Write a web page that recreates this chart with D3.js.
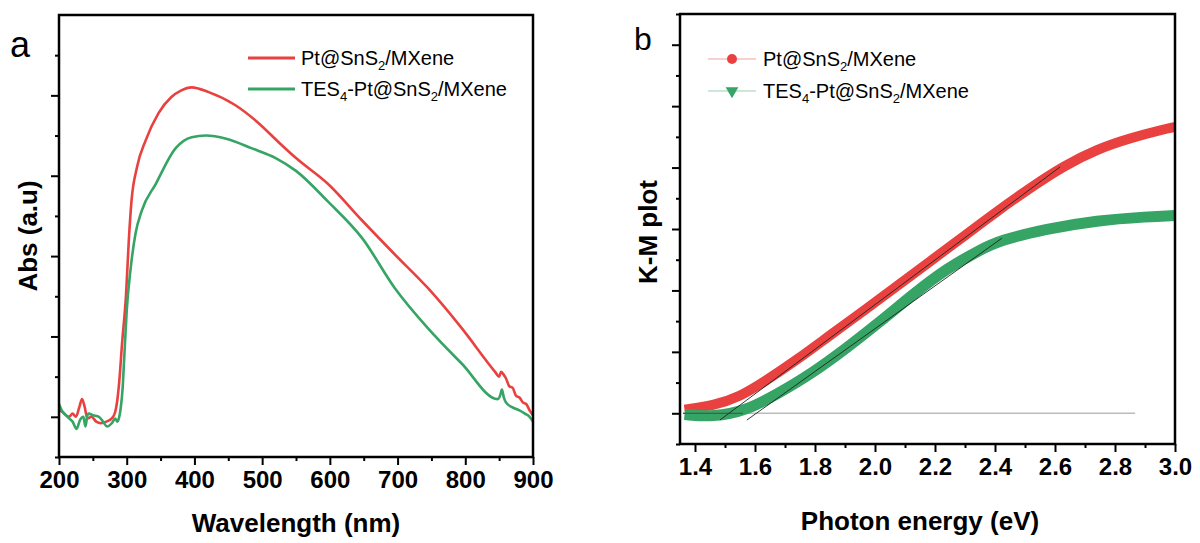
<!DOCTYPE html>
<html>
<head>
<meta charset="utf-8">
<script src="https://cdn.jsdelivr.net/npm/d3@7"></script>
<style>
  body { margin: 0; background: #fff; }
  svg { display: block; font-family: "Liberation Sans", Arial, sans-serif; }
</style>
</head>
<body>
<svg id="main" width="1200" height="543"></svg>
<script>
// panel a: UV-vis absorbance
const redAbsNm = [200, 205, 210, 215, 220, 225, 230, 234, 238, 242, 248, 255, 262, 270, 278, 283, 286, 289, 293, 299, 303, 307, 315, 328, 347, 366, 380, 396, 421, 460, 494, 524, 550, 597, 648, 696, 745, 795, 844, 850, 853, 857, 860, 865, 870, 875, 880, 885, 890, 895, 900];
const redAbs = [0.04, 0.03, 0.01, 0.00, 0.02, 0.00, 0.06, 0.11, 0.06, -0.01, 0.00, -0.03, -0.04, -0.03, -0.01, 0.03, 0.10, 0.22, 0.45, 0.76, 1.09, 1.34, 1.55, 1.72, 1.89, 1.99, 2.03, 2.05, 2.02, 1.94, 1.83, 1.71, 1.61, 1.45, 1.22, 1.01, 0.80, 0.55, 0.28, 0.25, 0.28, 0.26, 0.24, 0.19, 0.18, 0.13, 0.12, 0.09, 0.08, 0.04, 0.01];
const greenAbsNm = [200, 204, 208, 215, 220, 226, 231, 236, 239, 242, 244, 250, 259, 265, 271, 278, 283, 286, 289, 291, 294, 296, 300, 306, 313, 322, 343, 372, 396, 417, 447, 485, 520, 550, 597, 648, 696, 745, 795, 848, 852, 854, 857, 860, 869, 880, 888, 895, 900];
const greenAbs = [0.08, 0.04, 0.02, -0.01, -0.03, -0.075, -0.02, 0.00, -0.06, 0.01, 0.02, 0.01, 0.00, -0.03, -0.06, -0.04, -0.01, -0.03, 0.00, 0.05, 0.18, 0.34, 0.66, 0.93, 1.14, 1.28, 1.45, 1.67, 1.74, 1.75, 1.73, 1.67, 1.61, 1.53, 1.34, 1.11, 0.80, 0.55, 0.33, 0.11, 0.14, 0.17, 0.12, 0.09, 0.06, 0.04, 0.02, 0.00, -0.03];

// panel b: Kubelka-Munk
const redKmEv = [1.365, 1.46, 1.55, 1.63, 1.74, 1.85, 1.96, 2.07, 2.18, 2.29, 2.41, 2.52, 2.63, 2.74, 2.85, 2.96, 3.00];
const redKm = [0.06, 0.12, 0.27, 0.51, 0.87, 1.27, 1.66, 2.06, 2.46, 2.86, 3.30, 3.68, 4.03, 4.30, 4.48, 4.62, 4.66];
const greenKmEv = [1.365, 1.46, 1.57, 1.68, 1.79, 1.91, 2.02, 2.13, 2.24, 2.35, 2.42, 2.57, 2.74, 2.91, 3.00];
const greenKm = [-0.02, -0.06, 0.04, 0.33, 0.65, 1.08, 1.50, 1.95, 2.36, 2.66, 2.82, 3.00, 3.14, 3.20, 3.22];
// tangent (band gap) lines and baseline: [x0, y0, x1, y1]
const redFit = [1.483, -0.11, 2.617, 4.01];
const greenFit = [1.573, -0.11, 2.423, 2.85];
const baseLine = [1.36, 0, 2.867, 0];

const absTicks = [200, 300, 400, 500, 600, 700, 800, 900];
const kmTicks = [1.4, 1.6, 1.8, 2.0, 2.2, 2.4, 2.6, 2.8, 3.0];
const seriesNames = ['Pt@SnS|2|/MXene', 'TES|4|-Pt@SnS|2|/MXene'];

const RED = '#e8413f', GREEN = '#35a465';
const svg = d3.select('#main');

drawPanelA();
drawPanelB();


function drawBox(g, x, y, w, h) {
  g.append('rect')
      .attr('x', x).attr('y', y).attr('width', w).attr('height', h)
      .attr('fill', 'none').attr('stroke', '#000').attr('stroke-width', 2.5);
}

// text with |sub| parts drawn as subscripts
function richText(sel, str) {
  str.split('|').forEach((part, i) => {
    if (i % 2 === 1) {
      sel.append('tspan').attr('font-size', 13).attr('dy', 5).text(part);
    } else {
      sel.append('tspan').attr('dy', i === 0 ? 0 : -5).text(part);
    }
  });
}

function xAxis(g, x, ticks, minor, y0, fmt) {
  g.append('g')
      .attr('transform', `translate(0,${y0})`)
      .call(d3.axisBottom(x).tickValues(minor).tickSize(4).tickFormat(''))
      .call(a => a.select('.domain').remove())
      .call(a => a.selectAll('line').attr('stroke-width', 2));
  g.append('g')
      .attr('transform', `translate(0,${y0})`)
      .call(d3.axisBottom(x).tickValues(ticks).tickSize(8).tickPadding(6).tickFormat(fmt))
      .call(a => a.select('.domain').remove())
      .call(a => a.selectAll('line').attr('stroke-width', 2))
      .call(a => a.selectAll('text')
          .attr('font-size', 24).attr('font-weight', 'bold').attr('fill', '#000')
          .attr('font-family', '"Liberation Sans", Arial, sans-serif'));
}

function yAxis(g, y, ticks, minor, x0) {
  g.append('g')
      .attr('transform', `translate(${x0},0)`)
      .call(d3.axisLeft(y).tickValues(minor).tickSize(4).tickFormat(''))
      .call(a => a.select('.domain').remove())
      .call(a => a.selectAll('line').attr('stroke-width', 2));
  g.append('g')
      .attr('transform', `translate(${x0},0)`)
      .call(d3.axisLeft(y).tickValues(ticks).tickSize(8).tickFormat(''))
      .call(a => a.select('.domain').remove())
      .call(a => a.selectAll('line').attr('stroke-width', 2));
}


function drawPanelA() {
  const m = {left: 59, right: 533, top: 15, bottom: 457};
  const g = svg.append('g');

  const x = d3.scaleLinear().domain([200, 900]).range([m.left, m.right]);
  const y = d3.scaleLinear().domain([-0.25, 2.5]).range([m.bottom, m.top]);

  const line = d3.line()
      .x(d => x(d[0]))
      .y(d => y(d[1]))
      .curve(d3.curveMonotoneX);

  g.append('path')
      .datum(d3.zip(redAbsNm, redAbs))
      .attr('d', line)
      .attr('fill', 'none').attr('stroke', RED).attr('stroke-width', 2.6);
  g.append('path')
      .datum(d3.zip(greenAbsNm, greenAbs))
      .attr('d', line)
      .attr('fill', 'none').attr('stroke', GREEN).attr('stroke-width', 2.6);

  xAxis(g, x, absTicks, d3.range(250, 900, 100), m.bottom, d3.format('d'));
  yAxis(g, y, [0, 0.5, 1, 1.5, 2], [-0.25, 0.25, 0.75, 1.25, 1.75, 2.25], m.left);
  drawBox(g, m.left, m.top, m.right - m.left, m.bottom - m.top);

  g.append('text')
      .attr('x', 296).attr('y', 532)
      .attr('text-anchor', 'middle')
      .attr('font-size', 26).attr('font-weight', 'bold')
      .text('Wavelength (nm)');
  g.append('text')
      .attr('transform', 'translate(37,236) rotate(-90)')
      .attr('text-anchor', 'middle')
      .attr('font-size', 26).attr('font-weight', 'bold')
      .text('Abs (a.u)');
  g.append('text')
      .attr('x', 10).attr('y', 57)
      .attr('font-size', 36)
      .text('a');

  // legend
  [RED, GREEN].forEach((c, i) => {
    const ly = 58 + i * 31;
    g.append('line')
        .attr('x1', 248).attr('x2', 295).attr('y1', ly).attr('y2', ly)
        .attr('stroke', c).attr('stroke-width', 3);
    g.append('text')
        .attr('x', 301).attr('y', ly + 7)
        .attr('font-size', 20)
        .call(t => richText(t, seriesNames[i]));
  });
}


function drawPanelB() {
  const m = {left: 680, right: 1175, top: 14, bottom: 444};
  const g = svg.append('g');

  const x = d3.scaleLinear().domain([1.35, 3.0]).range([m.left, m.right]);
  const y = d3.scaleLinear().domain([-0.5, 6.5]).range([m.bottom, m.top]);

  const line = d3.line()
      .x(d => x(d[0]))
      .y(d => y(d[1]))
      .curve(d3.curveBasis);

  g.append('line')
      .attr('x1', x(baseLine[0])).attr('y1', y(baseLine[1]))
      .attr('x2', x(baseLine[2])).attr('y2', y(baseLine[3]))
      .attr('stroke', '#bbb').attr('stroke-width', 1.5);

  // dense markers drawn as a thick band
  g.append('path')
      .datum(d3.zip(redKmEv, redKm))
      .attr('d', line)
      .attr('fill', 'none').attr('stroke', RED).attr('stroke-width', 10);
  g.append('path')
      .datum(d3.zip(greenKmEv, greenKm))
      .attr('d', line)
      .attr('fill', 'none').attr('stroke', GREEN).attr('stroke-width', 11);

  g.append('line')
      .attr('x1', x(baseLine[0])).attr('y1', y(baseLine[1]))
      .attr('x2', x(1.56)).attr('y2', y(baseLine[3]))
      .attr('stroke', '#555').attr('stroke-width', 1.2);

  [redFit, greenFit].forEach(f => {
    g.append('line')
        .attr('x1', x(f[0])).attr('y1', y(f[1]))
        .attr('x2', x(f[2])).attr('y2', y(f[3]))
        .attr('stroke', '#222').attr('stroke-width', 0.9);
  });

  const minor = d3.range(1.5, 3.0, 0.2).map(d => +d.toFixed(1));
  xAxis(g, x, kmTicks, minor, m.bottom, d3.format('.1f'));
  yAxis(g, y, d3.range(0, 7), d3.range(-0.5, 6.6, 1), m.left);
  drawBox(g, m.left, m.top, m.right - m.left, m.bottom - m.top);

  g.append('text')
      .attr('x', 920).attr('y', 530)
      .attr('text-anchor', 'middle')
      .attr('font-size', 26).attr('font-weight', 'bold')
      .text('Photon energy (eV)');
  g.append('text')
      .attr('transform', 'translate(657,232) rotate(-90)')
      .attr('text-anchor', 'middle')
      .attr('font-size', 26).attr('font-weight', 'bold')
      .text('K-M plot');
  g.append('text')
      .attr('x', 634).attr('y', 50)
      .attr('font-size', 32)
      .text('b');

  // legend
  [RED, GREEN].forEach((c, i) => {
    const ly = 59 + i * 32;
    g.append('line')
        .attr('x1', 708).attr('x2', 756).attr('y1', ly).attr('y2', ly)
        .attr('stroke', c).attr('stroke-opacity', 0.5).attr('stroke-width', 1);
    if (i === 0) {
      g.append('circle').attr('cx', 732).attr('cy', ly).attr('r', 5).attr('fill', c);
    } else {
      g.append('path')
          .attr('d', d3.symbol(d3.symbolTriangle, 70))
          .attr('transform', `translate(732,${ly}) rotate(180)`)
          .attr('fill', c);
    }
    g.append('text')
        .attr('x', 763).attr('y', ly + 7)
        .attr('font-size', 20)
        .call(t => richText(t, seriesNames[i]));
  });
}
</script>
</body>
</html>
